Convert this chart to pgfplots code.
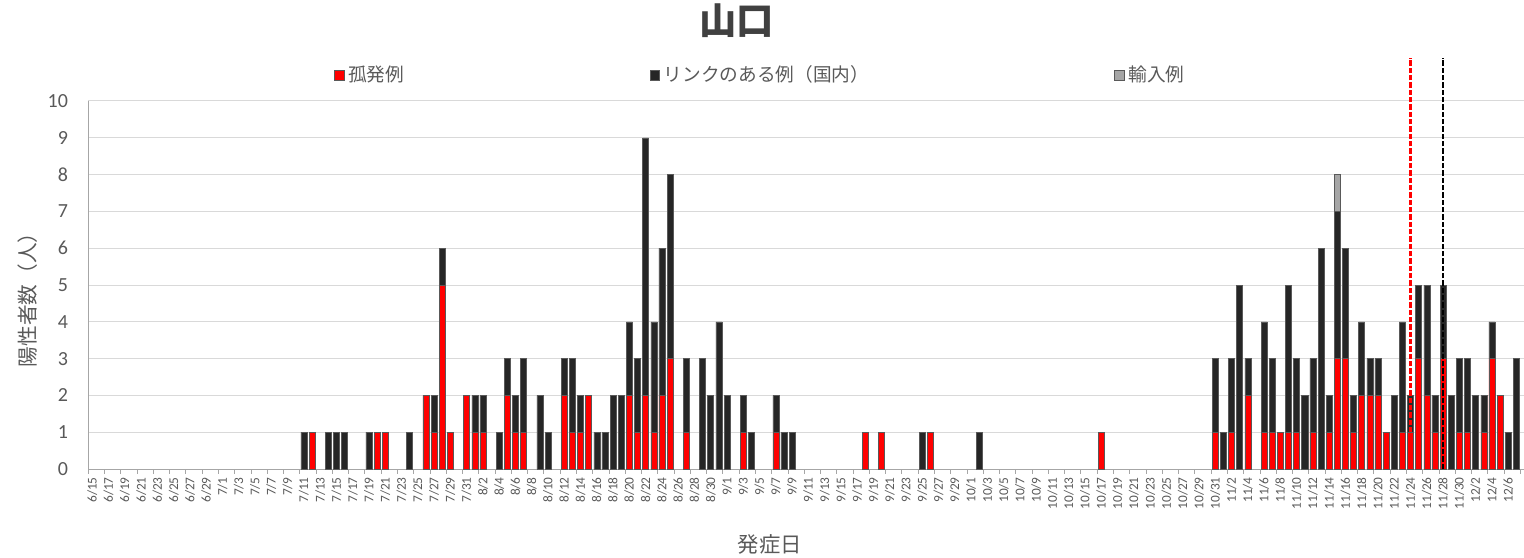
\documentclass[border=0pt]{standalone}
\usepackage{pgfplots}
\pgfplotsset{compat=1.18}
\usepackage{pgfplotstable}
\usepackage{fontspec}
\setmainfont{Carlito}
\newfontfamily\jp{Noto Sans CJK JP}

\definecolor{txt}{HTML}{595959}
\definecolor{gridc}{HTML}{D9D9D9}
\definecolor{axc}{HTML}{A6A6A6}
\definecolor{linkc}{HTML}{262626}
\definecolor{edgec}{HTML}{595959}
\definecolor{impc}{HTML}{A6A6A6}

% day index: 6/15 = 0; columns: isolated, linked (domestic), imported
\pgfplotstableread{
x R B G
26 0 1 0
27 1 0 0
29 0 1 0
30 0 1 0
31 0 1 0
34 0 1 0
35 1 0 0
36 1 0 0
39 0 1 0
41 2 0 0
42 1 1 0
43 5 1 0
44 1 0 0
46 2 0 0
47 1 1 0
48 1 1 0
50 0 1 0
51 2 1 0
52 1 1 0
53 1 2 0
55 0 2 0
56 0 1 0
58 2 1 0
59 1 2 0
60 1 1 0
61 2 0 0
62 0 1 0
63 0 1 0
64 0 2 0
65 0 2 0
66 2 2 0
67 1 2 0
68 2 7 0
69 1 3 0
70 2 4 0
71 3 5 0
73 1 2 0
75 0 3 0
76 0 2 0
77 0 4 0
78 0 2 0
80 1 1 0
81 0 1 0
84 1 1 0
85 0 1 0
86 0 1 0
95 1 0 0
97 1 0 0
102 0 1 0
103 1 0 0
109 0 1 0
124 1 0 0
138 1 2 0
139 0 1 0
140 1 2 0
141 0 5 0
142 2 1 0
144 1 3 0
145 1 2 0
146 1 0 0
147 1 4 0
148 1 2 0
149 0 2 0
150 1 2 0
151 0 6 0
152 1 1 0
153 3 4 1
154 3 3 0
155 1 1 0
156 2 2 0
157 2 1 0
158 2 1 0
159 1 0 0
160 0 2 0
161 1 3 0
162 1 1 0
163 3 2 0
164 2 3 0
165 1 1 0
166 3 2 0
167 0 2 0
168 1 2 0
169 1 2 0
170 0 2 0
171 1 1 0
172 3 1 0
173 2 0 0
174 0 1 0
175 0 3 0
}\cases

\begin{document}
\begin{tikzpicture}
\pgfplotsset{base/.style={
  scale only axis, width=1076.8pt, height=276pt,
  xmin=-0.5, xmax=175.94, ymin=0, ymax=10}}
\begin{axis}[base,
  ybar stacked, bar width=0.74,
  axis lines*=left,
  axis line style={draw=axc, line width=0.75pt},
  ytick={0,1,...,10},
  ymajorgrids, grid style={draw=gridc, line width=0.75pt},
  major tick length=0pt,
  minor tick length=3.5pt, tick align=outside,
  minor x tick style={draw=axc, line width=0.75pt},
  minor xtick={-0.5,1.5,...,175.5},
  /pgf/number format/assume math mode=true,
  yticklabel style={font=\fontsize{15}{15}\selectfont, text=txt, anchor=east, inner sep=0pt},
  yticklabel shift=15pt,
  xtick={0,2,...,174},
  xticklabels={6/15,6/17,6/19,6/21,6/23,6/25,6/27,6/29,
    7/1,7/3,7/5,7/7,7/9,7/11,7/13,7/15,7/17,7/19,7/21,7/23,7/25,7/27,7/29,7/31,
    8/2,8/4,8/6,8/8,8/10,8/12,8/14,8/16,8/18,8/20,8/22,8/24,8/26,8/28,8/30,
    9/1,9/3,9/5,9/7,9/9,9/11,9/13,9/15,9/17,9/19,9/21,9/23,9/25,9/27,9/29,
    10/1,10/3,10/5,10/7,10/9,10/11,10/13,10/15,10/17,10/19,10/21,10/23,10/25,10/27,10/29,10/31,
    11/2,11/4,11/6,11/8,11/10,11/12,11/14,11/16,11/18,11/20,11/22,11/24,11/26,11/28,11/30,
    12/2,12/4,12/6},
  xticklabel style={font=\fontsize{10}{10}\selectfont, text=txt, rotate=90, anchor=east, inner sep=0pt},
  xticklabel shift=6pt,
  xlabel={\jp 発症日},
  xlabel style={font=\fontsize{16}{16}\selectfont, text=txt, at={(axis description cs:0.4748,-0.204)}, anchor=center},
  ylabel={\jp 陽性者数（人）},
  ylabel style={font=\fontsize{15.5}{15.5}\selectfont, text=txt, at={(axis description cs:-0.0425,0.473)}, anchor=center},
  title={\jp\bfseries 山口},
  title style={font=\fontsize{28}{28}\selectfont, text={rgb,255:red,64;green,64;blue,64}, at={(axis description cs:0.4518,1.196)}, anchor=center},
  legend columns=3,
  legend style={draw=none, fill=none, inner sep=0pt,
    at={(axis description cs:0.1711,1.0707)}, anchor=west,
    font=\fontsize{14}{14}\selectfont\jp, text=txt,
    nodes={inner sep=0pt, anchor=west},
    /tikz/every odd column/.append style={column sep=3pt},
    /tikz/every even column/.append style={column sep=184pt}},
  legend image code/.code={\draw[#1, line width=0.4pt] (0pt,-3.6pt) rectangle (7.2pt,3.6pt);},
  every axis plot/.append style={draw=edgec, line width=0.4pt},
]
\addplot[fill=red] table[x=x, y=R]{\cases};
\addplot[fill=linkc] table[x=x, y=B]{\cases};
\addplot[fill=impc] table[x=x, y=G]{\cases};
\legend{孤発例, リンクのある例（国内）, 輸入例}
\end{axis}
\begin{axis}[base, axis lines=none, clip=false]
\addplot[red, line width=1.6pt, dash pattern=on 4pt off 1.5pt] coordinates {(162,0) (162,11.17)};
\addplot[black, line width=1.6pt, dash pattern=on 4pt off 1.5pt] coordinates {(166,0) (166,11.17)};
\end{axis}
\pgfresetboundingbox
\path[use as bounding box] (-66.2pt,-66pt) rectangle (1076.8pt,351.75pt);
\end{tikzpicture}
\end{document}
